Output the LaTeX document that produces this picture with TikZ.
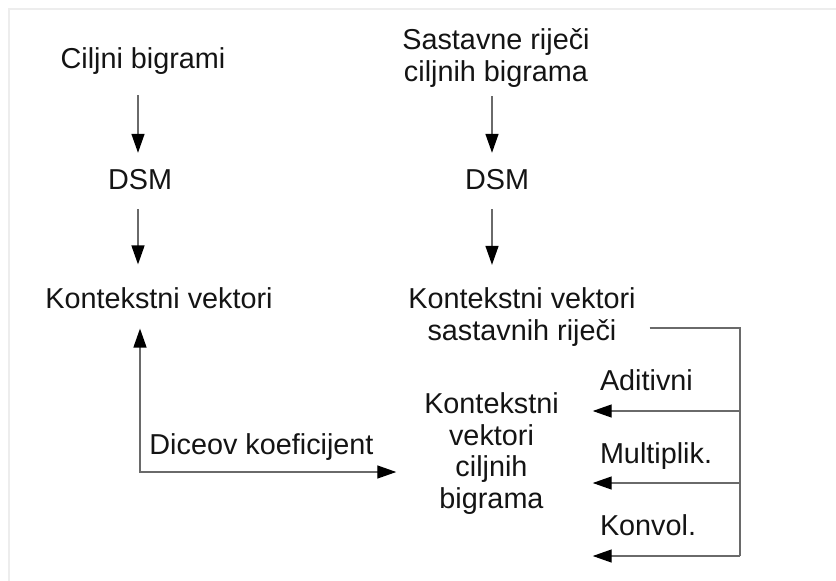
\documentclass[tikz,border=0pt]{standalone}
\usepackage{fontspec}
\setmainfont{Liberation Sans}
\usetikzlibrary{arrows.meta}
\definecolor{linegray}{HTML}{6A6A6A}
\definecolor{framegray}{HTML}{EDEDED}
\tikzset{
  lbl/.style={inner sep=0pt, outer sep=0pt, font=\fontsize{28.8}{31.5}\selectfont, text=black!92, align=center},
  arr/.style={draw=linegray, line width=1.4pt, -{Triangle[length=19pt,width=13pt,color=black]}},
  arrboth/.style={draw=linegray, line width=1.4pt, {Triangle[length=19pt,width=13pt,color=black]}-{Triangle[length=19pt,width=13pt,color=black]}},
  plain/.style={draw=linegray, line width=1.4pt},
}
\begin{document}
\begin{tikzpicture}[x=1pt,y=-1pt]
\useasboundingbox (0,0) rectangle (836,581);
% faint frame
\draw[framegray, line width=2pt] (9,581) -- (9,9) -- (836,9);

% nodes
\node[lbl] (cb) at (143,61) {Ciljni bigrami};
\node[lbl] (sr) at (496,58) {Sastavne riječi\\ciljnih bigrama};
\node[lbl] (dsm1) at (140,180) {DSM};
\node[lbl] (dsm2) at (497,180) {DSM};
\node[lbl] (kv1) at (159,298) {Kontekstni vektori};
\node[lbl] (kv2) at (522,317) {Kontekstni vektori\\sastavnih riječi};
\node[lbl] (kvc) at (491.5,453.5) {Kontekstni\\vektori\\ciljnih\\bigrama};
\node[lbl, anchor=base] (dice) at (261.5,454) {Diceov koeficijent};
\node[lbl, anchor=base west] (adi) at (600,390) {Aditivni};
\node[lbl, anchor=base west] (mul) at (600,463) {Multiplik.};
\node[lbl, anchor=base west] (kon) at (600,535) {Konvol.};

% coordinates
\coordinate (j) at (740,328);
\coordinate (r1) at (740,411);
\coordinate (r2) at (740,483);
\coordinate (r3) at (740,556);
\coordinate (corner) at (140,472);

% vertical arrows
\draw[arr, shorten <=21pt, shorten >=17pt] ([xshift=-2pt]dsm1.north |- cb.south) -- ([xshift=-2pt]dsm1.north);
\draw[arr, shorten <=19pt, shorten >=23pt] ([xshift=-2pt]dsm1.south) -- ([xshift=-2pt]dsm1.south |- kv1.north);
\draw[arr, shorten <=9pt, shorten >=17pt] ([xshift=-5pt]dsm2.north |- sr.south) -- ([xshift=-5pt]dsm2.north);
\draw[arr, shorten <=19pt, shorten >=23pt] ([xshift=-5pt]dsm2.south) -- ([xshift=-5pt]dsm2.south |- kv2.north);

% bracket on the right
\draw[plain, shorten <=14pt] (kv2.east |- j) -- (j) -- (r3);
\draw[arr, shorten >=34pt] (r1) -- (r1 -| kvc.east);
\draw[arr, shorten >=34pt] (r2) -- (r2 -| kvc.east);
\draw[arr, shorten >=34pt] (r3) -- (r3 -| kvc.east);

% Dice connector
\draw[arrboth, shorten <=20pt, shorten >=28pt] (kv1.south -| corner) -- (corner) -- (corner -| kvc.west);
\end{tikzpicture}
\end{document}
